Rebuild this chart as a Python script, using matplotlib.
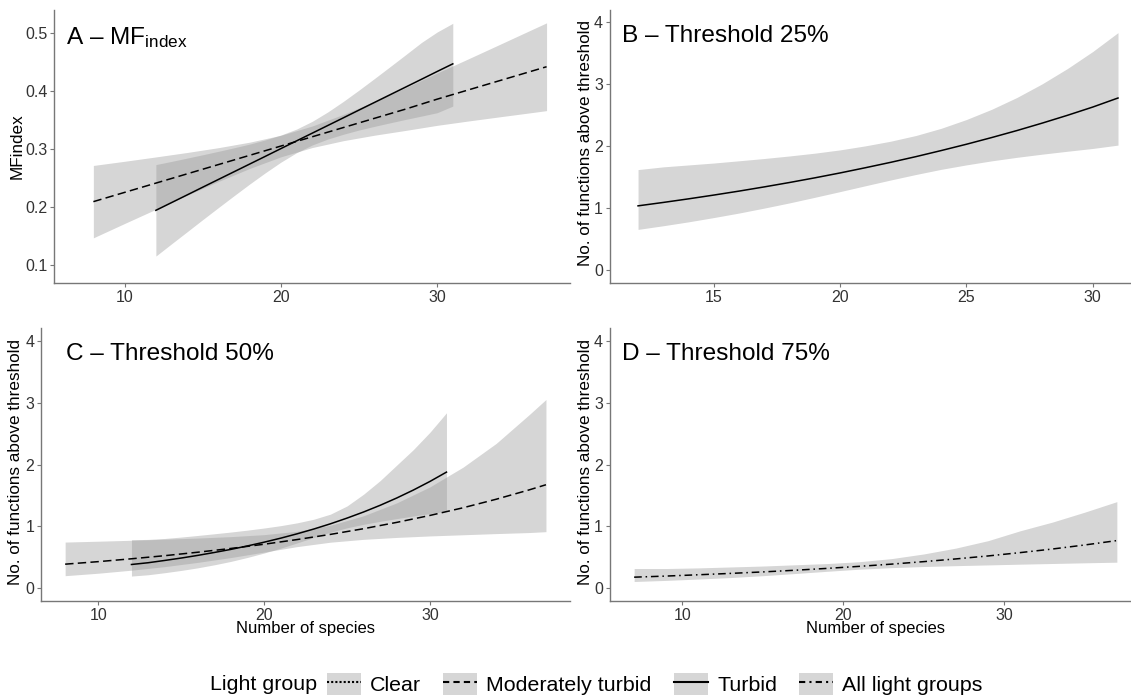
import matplotlib
matplotlib.use('Agg')
import matplotlib.pyplot as plt
from matplotlib.patches import Patch
from matplotlib.lines import Line2D

plt.rcParams['font.family'] = ['Liberation Sans', 'DejaVu Sans']
plt.rcParams['mathtext.fontset'] = 'custom'
plt.rcParams['mathtext.rm'] = 'Liberation Sans'
plt.rcParams['mathtext.it'] = 'Liberation Sans:italic'

W, H = 1131, 698

# --- A: MFindex ---
a_mod_x = [8, 10, 12, 14, 16, 18, 20, 22, 24, 26, 28, 30, 32, 34, 36, 37]
a_mod_fit = [0.209, 0.225, 0.241, 0.257, 0.273, 0.289, 0.305, 0.321, 0.337, 0.353,
             0.369, 0.386, 0.402, 0.418, 0.434, 0.442]
a_mod_lo = [0.1465, 0.1713, 0.1958, 0.2201, 0.2438, 0.2663, 0.2864, 0.3024, 0.3143,
            0.3238, 0.3321, 0.3408, 0.3483, 0.3555, 0.3626, 0.3662]
a_mod_hi = [0.2715, 0.2787, 0.2862, 0.2939, 0.3022, 0.3117, 0.3236, 0.3396, 0.3597,
            0.3822, 0.4059, 0.4312, 0.4557, 0.4805, 0.5054, 0.5178]

a_turb_x = [12, 13, 14, 15, 16, 17, 18, 19, 20, 21, 22, 23, 24, 25, 26, 27, 28, 29, 30, 31]
a_turb_fit = [0.194, 0.2073, 0.2206, 0.234, 0.2473, 0.2606, 0.2739, 0.2872, 0.3006, 0.3139,
              0.3272, 0.3405, 0.3538, 0.3672, 0.3805, 0.3938, 0.4071, 0.4204, 0.4338, 0.447]
a_turb_lo = [0.115, 0.1361, 0.157, 0.178, 0.1987, 0.2192, 0.2394, 0.2588, 0.2772, 0.2935,
             0.3068, 0.3171, 0.3254, 0.3327, 0.3391, 0.3452, 0.3511, 0.3568, 0.3626, 0.374]
a_turb_hi = [0.273, 0.2785, 0.2842, 0.290, 0.2959, 0.302, 0.3084, 0.3156, 0.324, 0.3343,
             0.3476, 0.3639, 0.3822, 0.4017, 0.4219, 0.4424, 0.4631, 0.484, 0.502, 0.517]

# --- B: threshold 25% (turbid only) ---
b_x = [12, 13, 14, 15, 16, 17, 18, 19, 20, 21, 22, 23, 24, 25, 26, 27, 28, 29, 30, 31]
b_fit = [1.04, 1.095, 1.153, 1.214, 1.278, 1.346, 1.417, 1.492, 1.571, 1.655,
         1.742, 1.834, 1.932, 2.034, 2.142, 2.255, 2.375, 2.501, 2.634, 2.78]
b_lo = [0.660, 0.719, 0.782, 0.851, 0.924, 1.004, 1.088, 1.178, 1.270, 1.364,
        1.457, 1.546, 1.629, 1.701, 1.766, 1.823, 1.874, 1.921, 1.966, 2.02]
b_hi = [1.625, 1.669, 1.700, 1.731, 1.767, 1.804, 1.845, 1.890, 1.943, 2.008,
        2.083, 2.175, 2.291, 2.433, 2.598, 2.789, 3.009, 3.256, 3.530, 3.835]

# --- C: threshold 50% ---
c_mod_x = [8, 10, 12, 14, 16, 18, 20, 22, 24, 26, 28, 30, 32, 34, 36, 37]
c_mod_fit = [0.390, 0.431, 0.477, 0.527, 0.583, 0.644, 0.712, 0.788, 0.871, 0.963,
             1.065, 1.177, 1.301, 1.439, 1.591, 1.673]
c_mod_lo = [0.204, 0.244, 0.293, 0.350, 0.419, 0.497, 0.585, 0.674, 0.745, 0.791,
            0.822, 0.846, 0.865, 0.884, 0.901, 0.915]
c_mod_hi = [0.747, 0.761, 0.776, 0.793, 0.812, 0.835, 0.867, 0.921, 1.018, 1.172,
            1.380, 1.638, 1.957, 2.341, 2.808, 3.05]

c_turb_x = [12, 13, 14, 15, 16, 17, 18, 19, 20, 21, 22, 23, 24, 25, 26, 27, 28, 29, 30, 31]
c_turb_fit = [0.385, 0.413, 0.450, 0.489, 0.532, 0.579, 0.629, 0.685, 0.745, 0.810,
              0.881, 0.958, 1.042, 1.134, 1.233, 1.341, 1.459, 1.587, 1.726, 1.877]
c_turb_lo = [0.198, 0.219, 0.252, 0.289, 0.331, 0.380, 0.435, 0.499, 0.570, 0.648,
             0.734, 0.822, 0.906, 0.977, 1.034, 1.082, 1.126, 1.168, 1.207, 1.246]
c_turb_hi = [0.785, 0.790, 0.805, 0.828, 0.854, 0.881, 0.909, 0.940, 0.974, 1.012,
             1.058, 1.116, 1.198, 1.330, 1.520, 1.740, 1.990, 2.240, 2.520, 2.835]

# --- D: threshold 75% (all light groups) ---
d_x = [7, 9, 11, 13, 15, 17, 19, 21, 23, 25, 27, 29, 31, 33, 35, 37]
d_fit = [0.180, 0.198, 0.219, 0.241, 0.265, 0.292, 0.322, 0.355, 0.391, 0.431,
         0.475, 0.523, 0.577, 0.635, 0.700, 0.771]
d_lo = [0.11, 0.128, 0.15, 0.174, 0.204, 0.239, 0.275, 0.309, 0.334, 0.352,
        0.366, 0.378, 0.390, 0.401, 0.412, 0.422]
d_hi = [0.32, 0.32, 0.33, 0.345, 0.36, 0.38, 0.40, 0.43, 0.48, 0.555,
        0.65, 0.77, 0.93, 1.07, 1.23, 1.40]

legend_labels = ['Clear', 'Moderately turbid', 'Turbid', 'All light groups']

BAND = dict(color='#999999', alpha=0.4, lw=0)
LW = 1.1
DASH = (5.5, 2.8)
DOTDASH = (5.0, 2.5, 1.0, 2.5)


def box(l, t, r, b):
    return [l / W, 1 - b / H, (r - l) / W, (b - t) / H]


def style(ax):
    for s in ['top', 'right']:
        ax.spines[s].set_visible(False)
    for s in ['left', 'bottom']:
        ax.spines[s].set_color('#777777')
        ax.spines[s].set_linewidth(1.0)
    ax.tick_params(length=3, width=0.8, color='#777777', labelsize=11.5,
                   labelcolor='#333333', pad=2)


fig = plt.figure(figsize=(W / 100, H / 100), dpi=100)

# panel A
ax1 = fig.add_axes(box(54.3, 10, 570, 282.7))
ax1.fill_between(a_mod_x, a_mod_lo, a_mod_hi, **BAND)
ax1.fill_between(a_turb_x, a_turb_lo, a_turb_hi, **BAND)
ax1.plot(a_mod_x, a_mod_fit, color='black', lw=LW, dashes=DASH)
ax1.plot(a_turb_x, a_turb_fit, color='black', lw=LW)
ax1.set_xlim(5.5, 38.5)
ax1.set_ylim(0.069, 0.540)
ax1.set_xticks([10, 20, 30])
ax1.set_yticks([0.1, 0.2, 0.3, 0.4, 0.5])
style(ax1)

# panel B
ax2 = fig.add_axes(box(610, 10, 1142, 282.7))
ax2.fill_between(b_x, b_lo, b_hi, **BAND)
ax2.plot(b_x, b_fit, color='black', lw=LW)
ax2.set_xlim(10.89, 31.95)
ax2.set_ylim(-0.2, 4.2)
ax2.set_xticks([15, 20, 25, 30])
ax2.set_yticks([0, 1, 2, 3, 4])
style(ax2)

# panel C
ax3 = fig.add_axes(box(41.1, 328.3, 570, 600.7))
ax3.fill_between(c_mod_x, c_mod_lo, c_mod_hi, **BAND)
ax3.fill_between(c_turb_x, c_turb_lo, c_turb_hi, **BAND)
ax3.plot(c_mod_x, c_mod_fit, color='black', lw=LW, dashes=DASH)
ax3.plot(c_turb_x, c_turb_fit, color='black', lw=LW)
ax3.set_xlim(6.55, 38.45)
ax3.set_ylim(-0.2, 4.2)
ax3.set_xticks([10, 20, 30])
ax3.set_yticks([0, 1, 2, 3, 4])
style(ax3)

# panel D
ax4 = fig.add_axes(box(610, 328.3, 1141, 600.7))
ax4.fill_between(d_x, d_lo, d_hi, **BAND)
ax4.plot(d_x, d_fit, color='black', lw=LW, dashes=DOTDASH)
ax4.set_xlim(5.5, 38.5)
ax4.set_ylim(-0.2, 4.2)
ax4.set_xticks([10, 20, 30])
ax4.set_yticks([0, 1, 2, 3, 4])
style(ax4)

# panel titles
TS = 17.6
fig.text(65.5 / W, 1 - 44.3 / H, r'A – MF$_{\mathrm{index}}$', fontsize=TS, va='baseline')
fig.text(622.5 / W, 1 - 41.7 / H, 'B – Threshold 25%', fontsize=TS, va='baseline')
fig.text(66 / W, 1 - 360 / H, 'C – Threshold 50%', fontsize=TS, va='baseline')
fig.text(622.5 / W, 1 - 360 / H, 'D – Threshold 75%', fontsize=TS, va='baseline')

# axis titles
ylab = 'No. of functions above threshold'
fig.text(17 / W, 1 - 146.4 / H, 'MFindex', fontsize=12.3, rotation=90, ha='center', va='center')
fig.text(585 / W, 1 - 143 / H, ylab, fontsize=12.3, rotation=90, ha='center', va='center')
fig.text(16 / W, 1 - 462 / H, ylab, fontsize=12.3, rotation=90, ha='center', va='center')
fig.text(585 / W, 1 - 462 / H, ylab, fontsize=12.3, rotation=90, ha='center', va='center')
fig.text(305.5 / W, 1 - 633 / H, 'Number of species', fontsize=12, ha='center', va='baseline')
fig.text(875.5 / W, 1 - 633 / H, 'Number of species', fontsize=12, ha='center', va='baseline')

# legend
key_styles = [dict(linestyle=(0, (1, 1))), dict(dashes=(3, 2)), dict(linestyle='-'),
              dict(dashes=(3, 2, 1, 2))]
handles = []
for st in key_styles:
    p = Patch(facecolor='#999999', alpha=0.4, edgecolor='none')
    ln = Line2D([], [], color='black', lw=1.5, **st)
    handles.append((p, ln))
fig.text(209.7 / W, 1 - 690 / H, 'Light group', fontsize=15.4, va='baseline')
fig.legend(handles, legend_labels, loc='center left', ncol=4,
           bbox_to_anchor=(327 / W, 1 - 684 / H), frameon=False,
           fontsize=15.4, handlelength=1.6, handleheight=1.2,
           handletextpad=0.42, columnspacing=1.03, borderpad=0,
           borderaxespad=0)

fig.savefig('out.png', dpi=100)
